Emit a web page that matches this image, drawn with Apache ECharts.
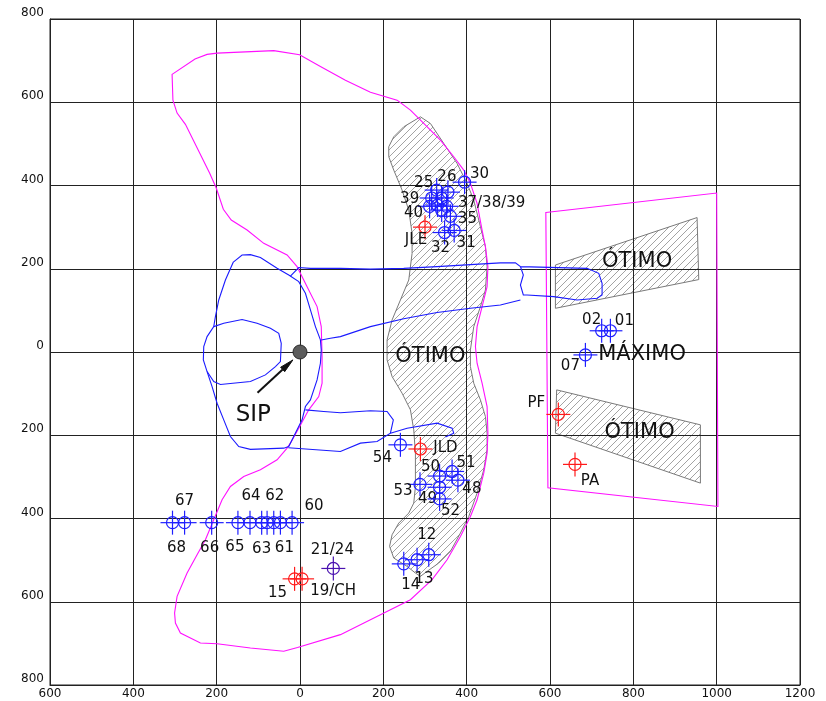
<!DOCTYPE html>
<html>
<head>
<meta charset="utf-8">
<script src="https://cdn.jsdelivr.net/npm/echarts@6/dist/echarts.min.js"></script>
<style>
  html, body { margin: 0; padding: 0; background: #fff; }
  #chart { width: 826px; height: 701px; }
</style>
</head>
<body>
<div id="chart"></div>
<script>
// ---- axes ----
const xMin = -600, xMax = 1200, xStep = 200;
const yMin = -800, yMax = 800, yStep = 200;

// ---- measured points (blue) ----
const blueLabels = ['30', '26', '25', '39', '', '40', '', '', '37/38/39', '35', '32', '31',
  '54', '50', '51', '48', '53', '49', '52', '12', '13', '14',
  '68', '67', '66', '65', '64', '63', '', '62', '61', '60',
  '02', '01', '07'];
const blueX = [395, 355, 328, 316, 340, 311, 330, 340, 352, 361, 347, 370,
  241, 335, 365, 379, 288, 335, 335, 309, 281, 249,
  -306, -277, -212, -149, -120, -92, -79, -63, -47, -19,
  724, 745, 685];
const blueY = [408, 384, 389, 370, 370, 350, 353, 341, 350, 326, 287, 292,
  -223, -298, -287, -308, -318, -325, -353, -487, -499, -509,
  -410, -410, -410, -410, -410, -410, -410, -410, -410, -410,
  51, 51, -7];

// ---- measured points (red) ----
const redLabels = ['JLE', 'JLD', '15', '19/CH', 'PF', 'PA'];
const redX = [300, 289, -13, 5, 620, 660];
const redY = [300, -233, -545, -545, -150, -270];

// ---- measured points (violet) ----
const violetLabels = ['21/24'];
const violetX = [80];
const violetY = [-520];

// ---- label placement (pixel offsets from each marker) ----
const blueLabelOffsets = [[15, -8], [-1, -15], [-13, -7], [-22, 1], [0, 0], [-16, 7], [0, 0], [0, 0], [45, -3], [17, 3], [-4, 16], [12, 13],
  [-18, 13], [-9, -9], [14, -8], [14, 9], [-17, 7], [-12, 12], [11, 12], [-2, -20], [7, 19], [7, 21],
  [4, 25], [0, -22], [-2, 25], [-3, 24], [1, -27], [0, 26], [0, 0], [1, -27], [4, 25], [22, -17],
  [-10, -11], [14, -10], [-15, 11]];
const redLabelOffsets = [[-9, 13], [25, -1], [-17, 14], [31, 12], [-22, -11], [15, 17]];
const violetLabelOffsets = [[-1, -18]];

// ---- outer envelope (magenta) ----
const envelope = [[-307, 667], [-252, 704], [-223, 715], [-199, 718], [-63, 724], [-1, 714], [49, 686], [109, 653], [169, 624], [233, 605],
  [265, 581], [297, 549], [337, 509], [369, 469], [393, 437], [409, 405], [425, 357], [437, 293], [445, 253], [451, 205],
  [449, 157], [437, 109], [425, 61], [421, 13], [425, -27], [437, -75], [449, -131], [451, -195], [449, -243], [441, -291],
  [425, -355], [409, -395], [385, -443], [353, -499], [317, -547], [265, -595], [193, -631], [97, -679], [-6, -710], [-39, -719],
  [-119, -711], [-199, -701], [-239, -699], [-287, -675], [-299, -651], [-301, -627], [-295, -587], [-271, -531], [-247, -487], [-227, -451],
  [-207, -403], [-187, -355], [-167, -323], [-135, -299], [-95, -283], [-55, -259], [-31, -231], [-23, -219], [-3, -183], [21, -139],
  [45, -107], [53, -75], [53, -11], [51, 61], [41, 109], [17, 157], [-7, 205], [-31, 233], [-87, 261], [-127, 293],
  [-165, 317], [-184, 343], [-201, 394], [-217, 430], [-275, 547], [-295, 574], [-305, 605]];
const rightFrame = [[590, 335], [1000, 382], [1003, -371], [595, -326]];

// ---- hatched zones ----
const centralZone = [[289, 565], [249, 541], [225, 517], [213, 493], [213, 469], [225, 437], [245, 389], [261, 341], [269, 285], [269, 237],
  [261, 173], [241, 125], [221, 77], [209, 29], [209, -19], [221, -59], [245, -99], [265, -139], [273, -187], [277, -243],
  [277, -323], [273, -363], [261, -387], [237, -411], [221, -439], [215, -467], [225, -495], [257, -515], [277, -531], [289, -539],
  [305, -527], [333, -507], [361, -479], [385, -435], [405, -395], [425, -339], [441, -283], [449, -235], [449, -195], [445, -155],
  [433, -115], [417, -75], [409, -35], [409, 5], [417, 61], [433, 109], [445, 149], [449, 205], [445, 253], [433, 301],
  [417, 365], [401, 405], [377, 453], [345, 501], [313, 549]];
const upperZone = [[613, 209], [953, 323], [957, 174], [613, 105]];
const lowerZone = [[616, -91], [961, -175], [961, -315], [613, -195]];

// ---- contour lines (blue) ----
const outerLoop = [[-160, 216], [-139, 233], [-119, 234], [-95, 227], [-55, 201], [-27, 185], [-3, 169], [13, 141], [25, 101], [37, 61],
  [49, 29], [51, 5], [49, -27], [41, -67], [25, -115], [13, -131], [5, -163], [-7, -187], [-27, -227], [-39, -231],
  [-119, -234], [-147, -227], [-167, -203], [-183, -163], [-199, -123], [-211, -83], [-223, -47], [-232, -19], [-231, 13], [-223, 37],
  [-207, 61], [-203, 85], [-195, 125], [-179, 173], [-160, 216]];
const innerLoop = [[-207, 61], [-183, 69], [-139, 78], [-103, 69], [-71, 57], [-51, 45], [-45, 21], [-47, -23], [-59, -35], [-83, -55],
  [-119, -71], [-191, -78], [-207, -71], [-223, -47]];
const upperTongue = [[-23, 182], [-3, 203], [25, 201], [97, 201], [169, 199], [249, 201], [329, 205], [409, 210], [481, 214], [517, 214],
  [529, 205], [536, 185], [529, 161], [536, 137], [545, 137], [609, 133], [665, 125], [713, 129], [725, 137], [725, 165],
  [717, 189], [689, 201], [529, 205]];
const middleLine = [[51, 29], [73, 33], [97, 37], [169, 61], [249, 80], [329, 95], [409, 105], [481, 113], [529, 125]];
const lowerTongue = [[13, -139], [57, -143], [97, -146], [169, -141], [209, -143], [224, -163], [217, -195], [185, -215], [145, -219], [97, -239], [-28, -230]];
const lowerLobe = [[217, -195], [257, -183], [329, -171], [365, -183], [369, -195], [349, -204]];

// ---- SIP marker ----
const sipPoint = [0, 0];
const sipArrowFrom = [-102, -98];
const sipArrowTo = [-17, -19];

// ---- zone captions ----
const captions = [
  { text: 'ÓTIMO', x: 809, y: 217 },
  { text: 'MÁXIMO', x: 821, y: -5 },
  { text: 'ÓTIMO', x: 815, y: -194 },
  { text: 'ÓTIMO', x: 313, y: -12 },
  { text: 'SIP', x: -112, y: -151 }
];

const FONT = '"DejaVu Sans", sans-serif';

function hatchCanvas() {
  const n = 7;
  const c = document.createElement('canvas');
  c.width = n; c.height = n;
  const g = c.getContext('2d');
  g.strokeStyle = '#999';
  g.lineWidth = 0.9;
  g.beginPath();
  g.moveTo(-1, n + 1); g.lineTo(n + 1, -1);
  g.moveTo(-1, 1); g.lineTo(1, -1);
  g.moveTo(n - 1, n + 1); g.lineTo(n + 1, n - 1);
  g.stroke();
  return c;
}
const hatch = hatchCanvas();

function shapeSeries(shapes, style, closed, z) {
  return {
    type: 'custom', coordinateSystem: 'cartesian2d', silent: true, clip: false, z: z,
    data: shapes.map((s, i) => [s[0][0], s[0][1], i]),
    renderItem(params, api) {
      const pts = shapes[params.dataIndex].map(p => api.coord(p));
      return { type: closed ? 'polygon' : 'polyline', shape: { points: pts }, style: style };
    }
  };
}

function markerSeries(xs, ys, labels, offs, color) {
  return {
    type: 'custom', coordinateSystem: 'cartesian2d', silent: true, clip: false, z: 10,
    data: xs.map((x, i) => [x, ys[i]]),
    renderItem(params, api) {
      const i = params.dataIndex;
      const c = api.coord([api.value(0), api.value(1)]);
      const cx = c[0], cy = c[1];
      const st = { stroke: color, lineWidth: 1.2, fill: 'none' };
      const kids = [
        { type: 'circle', shape: { cx: cx, cy: cy, r: 6 }, style: st },
        { type: 'line', shape: { x1: cx - 12, y1: cy, x2: cx + 12, y2: cy }, style: st },
        { type: 'line', shape: { x1: cx, y1: cy - 12, x2: cx, y2: cy + 12 }, style: st }
      ];
      if (labels[i]) {
        kids.push({ type: 'text', x: cx + offs[i][0], y: cy + offs[i][1],
          style: { text: labels[i], fill: '#111', font: '15px ' + FONT, align: 'center', verticalAlign: 'middle' } });
      }
      return { type: 'group', children: kids };
    }
  };
}

const chart = echarts.init(document.getElementById('chart'), null, { renderer: 'canvas' });

const series = [
  shapeSeries([centralZone, upperZone, lowerZone], { stroke: '#7a7a7a', lineWidth: 1, fill: { image: hatch, repeat: 'repeat' } }, true, -1),
  shapeSeries([envelope, rightFrame], { stroke: '#ff10ff', lineWidth: 1.1, fill: 'none' }, true, 3),
  shapeSeries([outerLoop, innerLoop, upperTongue, middleLine, lowerTongue, lowerLobe], { stroke: '#1a1aff', lineWidth: 1.1, fill: 'none' }, false, 4),
  markerSeries(blueX, blueY, blueLabels, blueLabelOffsets, '#1f1fff'),
  markerSeries(redX, redY, redLabels, redLabelOffsets, '#ff1a1a'),
  markerSeries(violetX, violetY, violetLabels, violetLabelOffsets, '#4a12b0'),
  {
    type: 'custom', coordinateSystem: 'cartesian2d', silent: true, clip: false, z: 6,
    data: [[sipPoint[0], sipPoint[1]]],
    renderItem(params, api) {
      const c = api.coord(sipPoint);
      const a = api.coord(sipArrowFrom);
      const b = api.coord(sipArrowTo);
      const ang = Math.atan2(b[1] - a[1], b[0] - a[0]);
      const L = 14, W = 3;
      const bx = b[0] - L * Math.cos(ang), by = b[1] - L * Math.sin(ang);
      const nx = -Math.sin(ang) * W, ny = Math.cos(ang) * W;
      return {
        type: 'group', children: [
          { type: 'circle', shape: { cx: c[0], cy: c[1], r: 7 }, style: { fill: '#5c5c5c', stroke: '#2a2a2a', lineWidth: 1 } },
          { type: 'line', shape: { x1: a[0], y1: a[1], x2: bx, y2: by }, style: { stroke: '#111', lineWidth: 2 } },
          { type: 'polygon', shape: { points: [[b[0], b[1]], [bx + nx, by + ny], [bx - nx, by - ny]] }, style: { fill: '#111', stroke: '#111', lineWidth: 1 } }
        ]
      };
    }
  },
  {
    type: 'custom', coordinateSystem: 'cartesian2d', silent: true, clip: false, z: 7,
    data: captions.map(d => [d.x, d.y]),
    renderItem(params, api) {
      const d = captions[params.dataIndex];
      const c = api.coord([d.x, d.y]);
      return { type: 'text', x: c[0], y: c[1],
        style: { text: d.text, fill: '#111', font: (d.text === 'SIP' ? '23px ' : '21px ') + FONT, align: 'center', verticalAlign: 'middle' } };
    }
  }
];

chart.setOption({
  animation: false,
  backgroundColor: '#fff',
  grid: { left: 50, right: 26, top: 19, bottom: 16, show: true, borderColor: '#222', borderWidth: 1 },
  xAxis: {
    type: 'value', min: xMin, max: xMax, interval: xStep,
    axisLine: { show: true, onZero: false, lineStyle: { color: '#222', width: 1 } },
    axisTick: { show: false },
    splitLine: { show: true, lineStyle: { color: '#222', width: 1 } },
    axisLabel: { formatter: v => String(Math.abs(v)), color: '#111', fontSize: 12, fontFamily: FONT, margin: 3 }
  },
  yAxis: {
    type: 'value', min: yMin, max: yMax, interval: yStep,
    axisLine: { show: true, onZero: false, lineStyle: { color: '#222', width: 1 } },
    axisTick: { show: false },
    splitLine: { show: true, lineStyle: { color: '#222', width: 1 } },
    axisLabel: { formatter: v => String(Math.abs(v)), color: '#111', fontSize: 12, fontFamily: FONT, margin: 6, verticalAlign: 'bottom' }
  },
  series: series
});
</script>
</body>
</html>
